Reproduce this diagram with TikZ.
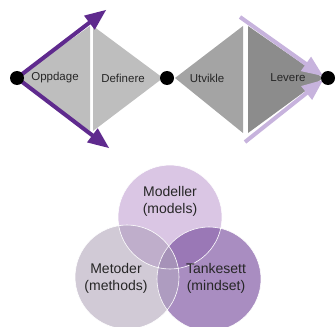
\documentclass[tikz,border=0pt]{standalone}
\usepackage{fontspec}
\setmainfont{Liberation Sans}
\usetikzlibrary{arrows}

\definecolor{purpleD}{HTML}{5F2A8E}
\definecolor{purpleL}{HTML}{C7B3DD}
\definecolor{greyA}{HTML}{BEBEBE}
\definecolor{greyB}{HTML}{A4A4A4}
\definecolor{greyC}{HTML}{8C8C8C}
\definecolor{vennM}{HTML}{DAC6E4}
\definecolor{vennT}{HTML}{A98DC1}
\definecolor{vennE}{HTML}{D1CAD6}
\definecolor{vennME}{HTML}{BFAECB}
\definecolor{vennMT}{HTML}{9A78B6}
\definecolor{vennET}{HTML}{AE9CC0}
\definecolor{vennAll}{HTML}{A692B8}

\begin{document}
\begin{tikzpicture}[x=1pt,y=-1pt,>=triangle 45]
	\tikzstyle{every node} = [font=\fontsize{11.5}{13}\selectfont,text=black!85];
	\tikzstyle{dot} = [circle,fill=black,inner sep=0pt,minimum size=14pt];
	\tikzstyle{venntext} = [font=\fontsize{14}{17}\selectfont,align=center];
	\useasboundingbox (0,0) rectangle (336,326);
	% double diamond
	\fill[greyA] (17,78) -- (90,26) -- (90,131) -- cycle;
	\fill[greyA] (93,26) -- (93,131) -- (163,78) -- cycle;
	\fill[greyB] (175,78) -- (243,26) -- (243,133) -- cycle;
	\fill[greyC] (248,26) -- (248,133) -- (323,78) -- cycle;
	\node (opp) at (55,78) {Oppdage};
	\node (def) at (123,78) {Definere};
	\node (utv) at (207,78) {Utvikle};
	\node (lev) at (288,78) {Levere};
	\coordinate (upTip) at (106,10);
	\coordinate (downTip) at (109,148);
	\coordinate (lvA) at (240,17);
	\coordinate (lvB) at (245,142);
	\coordinate (lvTipA) at (323,76);
	\coordinate (lvTipB) at (323,80);
	\draw[->,line width=4pt,purpleD] (17,78) -- (upTip);
	\draw[->,line width=4pt,purpleD] (17,78) -- (downTip);
	\draw[->,line width=4pt,purpleL] (lvA) -- (lvTipA);
	\draw[->,line width=4pt,purpleL] (lvB) -- (lvTipB);
	\node[dot] (d1) at (17,78) {};
	\node[dot] (d2) at (167,78) {};
	\node[dot] (d3) at (328,78) {};
	% venn
	\coordinate (cM) at (170,217);
	\coordinate (cE) at (127,277);
	\coordinate (cT) at (209,279);
	\fill[vennM] (cM) circle (52);
	\fill[vennE] (cE) circle (52);
	\fill[vennT] (cT) circle (52);
	\begin{scope}
		\clip (cM) circle (52);
		\fill[vennME] (cE) circle (52);
		\fill[vennMT] (cT) circle (52);
	\end{scope}
	\begin{scope}
		\clip (cE) circle (52);
		\fill[vennET] (cT) circle (52);
		\clip (cT) circle (52);
		\fill[vennAll] (cM) circle (52);
	\end{scope}
	\draw[white,line width=0.6pt] (cM) circle (52) (cE) circle (52) (cT) circle (52);
	\node[venntext] (mod) at (170,201) {Modeller\\(models)};
	\node[venntext] (met) at (116,278) {Metoder\\(methods)};
	\node[venntext] (tan) at (216,278) {Tankesett\\(mindset)};
\end{tikzpicture}
\end{document}
